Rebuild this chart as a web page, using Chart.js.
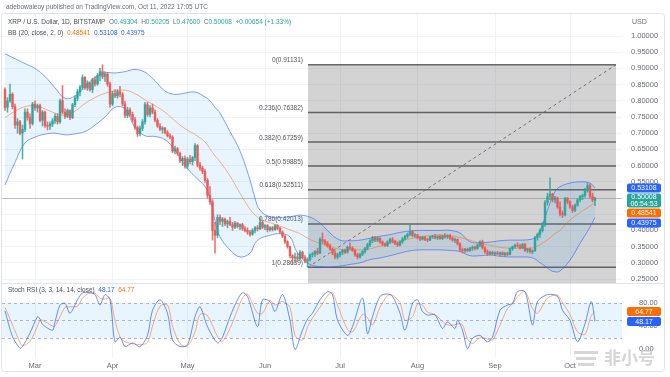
<!DOCTYPE html>
<html>
<head>
<meta charset="utf-8">
<script src="https://cdn.jsdelivr.net/npm/chart.js@4.4.0/dist/chart.umd.min.js"></script>
<style>
  html, body { margin: 0; padding: 0; background: #fff; }
  #wrap { width: 670px; height: 377px; }
</style>
</head>
<body>
<div id="wrap"><canvas id="xrp-chart" width="670" height="377"></canvas></div>
<script>
// day numbers count from 1 March 2022 (day 0), candles run 17 Feb -> 11 Oct
const firstDay = -12;

const opens = [
  .835,.780,.800,.820,.782,.725,.735,.700,.712,.765,
  .748,.730,.790,.778,.785,.740,.765,.724,.722,.728,
  .738,.752,.735,.800,.765,.752,.770,.748,.788,.808,
  .828,.842,.872,.840,.855,.835,.865,.852,.878,.890,
  .875,.882,.852,.790,.822,.815,.828,.820,.790,.755,
  .772,.758,.742,.718,.698,.715,.735,.788,.758,.778,
  .765,.740,.722,.712,.716,.702,.692,.688,.645,.652,
  .638,.615,.622,.598,.620,.612,.625,.662,.602,.592,
  .582,.555,.508,.488,.400,.385,.440,.428,.435,.420,
  .428,.418,.410,.422,.412,.418,.405,.400,.395,.388,
  .400,.408,.405,.425,.410,.415,.402,.408,.403,.414,
  .406,.395,.382,.365,.350,.322,.315,.318,.312,.332,
  .316,.305,.310,.325,.328,.335,.330,.372,.368,.360,
  .352,.342,.330,.318,.325,.332,.338,.333,.348,.345,
  .338,.325,.318,.326,.335,.345,.356,.368,.378,.370,
  .376,.364,.358,.354,.364,.372,.366,.360,.355,.365,
  .374,.382,.388,.396,.384,.386,.378,.373,.379,.372,
  .370,.380,.382,.377,.381,.375,.383,.380,.384,.376,
  .370,.372,.358,.340,.338,.342,.338,.345,.348,.344,
  .355,.365,.346,.334,.328,.332,.328,.330,.327,.331,
  .325,.329,.326,.344,.350,.354,.352,.346,.357,.338,
  .342,.334,.337,.378,.388,.400,.420,.486,.505,.512,
  .494,.500,.472,.452,.448,.498,.488,.472,.462,.478,
  .494,.504,.508,.525,.538,.505,.49304
];
const highs = [
  .840,.810,.852,.825,.790,.745,.740,.725,.775,.775,
  .760,.795,.800,.790,.790,.770,.768,.735,.735,.745,
  .760,.760,.805,.847,.775,.775,.772,.792,.815,.835,
  .848,.880,.875,.862,.858,.870,.875,.885,.900,.911,
  .890,.888,.858,.830,.835,.835,.845,.825,.798,.780,
  .778,.765,.748,.722,.722,.742,.795,.795,.785,.790,
  .772,.745,.730,.720,.718,.708,.698,.692,.660,.656,
  .642,.628,.630,.625,.632,.628,.668,.665,.610,.598,
  .588,.560,.535,.495,.425,.448,.448,.440,.438,.432,
  .440,.425,.428,.425,.420,.422,.412,.408,.400,.405,
  .412,.415,.440,.430,.418,.418,.412,.412,.418,.418,
  .410,.398,.385,.368,.352,.325,.330,.330,.338,.336,
  .322,.315,.328,.332,.338,.345,.378,.392,.372,.366,
  .358,.345,.338,.330,.335,.342,.342,.352,.362,.350,
  .342,.330,.330,.338,.348,.360,.372,.382,.382,.380,
  .378,.368,.362,.368,.376,.378,.370,.364,.368,.378,
  .385,.392,.418,.400,.390,.388,.382,.382,.382,.376,
  .382,.385,.388,.384,.386,.385,.390,.386,.388,.380,
  .376,.374,.362,.346,.345,.346,.348,.352,.352,.358,
  .368,.370,.350,.340,.336,.336,.334,.335,.333,.334,
  .332,.333,.346,.352,.358,.362,.358,.360,.360,.345,
  .346,.340,.382,.392,.405,.425,.492,.515,.562,.515,
  .505,.503,.488,.460,.502,.502,.492,.478,.482,.498,
  .508,.512,.530,.546,.542,.515,.50205
];
const lows = [
  .770,.765,.795,.775,.715,.700,.695,.620,.705,.740,
  .715,.725,.770,.765,.735,.722,.718,.710,.712,.720,
  .730,.728,.730,.760,.745,.748,.742,.745,.782,.800,
  .815,.835,.835,.832,.830,.825,.845,.848,.862,.868,
  .860,.845,.780,.785,.810,.808,.812,.785,.748,.748,
  .752,.735,.712,.690,.692,.708,.728,.752,.750,.760,
  .735,.718,.708,.700,.698,.688,.682,.640,.636,.632,
  .610,.600,.592,.590,.605,.602,.615,.596,.585,.575,
  .548,.500,.480,.370,.330,.378,.418,.412,.415,.408,
  .415,.400,.405,.408,.402,.400,.395,.388,.382,.385,
  .392,.398,.402,.405,.402,.395,.398,.398,.400,.402,
  .390,.378,.360,.345,.315,.295,.300,.305,.308,.312,
  .300,.2864,.305,.318,.320,.325,.328,.360,.355,.348,
  .338,.325,.312,.312,.318,.325,.328,.330,.340,.335,
  .320,.312,.314,.322,.330,.340,.350,.362,.365,.365,
  .360,.352,.350,.350,.360,.362,.356,.350,.352,.360,
  .370,.376,.384,.380,.378,.374,.368,.370,.368,.365,
  .368,.375,.374,.372,.372,.372,.376,.375,.372,.366,
  .362,.355,.335,.330,.332,.334,.335,.338,.340,.342,
  .350,.342,.330,.322,.324,.325,.322,.325,.322,.323,
  .320,.322,.324,.338,.345,.348,.342,.344,.335,.332,
  .330,.328,.335,.370,.378,.395,.412,.478,.495,.488,
  .485,.468,.445,.440,.445,.482,.468,.455,.458,.474,
  .488,.495,.502,.518,.500,.488,.476
];
const closes = [
  .780,.800,.820,.782,.725,.735,.700,.712,.765,.748,
  .730,.790,.778,.785,.740,.765,.724,.722,.728,.738,
  .752,.735,.800,.765,.752,.770,.748,.788,.808,.828,
  .842,.872,.840,.855,.835,.865,.852,.878,.890,.875,
  .882,.852,.790,.822,.815,.828,.820,.790,.755,.772,
  .758,.742,.718,.698,.715,.735,.788,.758,.778,.765,
  .740,.722,.712,.716,.702,.692,.688,.645,.652,.638,
  .615,.622,.598,.620,.612,.625,.662,.602,.592,.582,
  .555,.508,.488,.400,.385,.440,.428,.435,.420,.428,
  .418,.410,.422,.412,.418,.405,.400,.395,.388,.400,
  .408,.405,.425,.410,.415,.402,.408,.403,.414,.406,
  .395,.382,.365,.350,.322,.315,.318,.312,.332,.316,
  .305,.310,.325,.328,.335,.330,.372,.368,.360,.352,
  .342,.330,.318,.325,.332,.338,.333,.348,.345,.338,
  .325,.318,.326,.335,.345,.356,.368,.378,.370,.376,
  .364,.358,.354,.364,.372,.366,.360,.355,.365,.374,
  .382,.388,.396,.384,.386,.378,.373,.379,.372,.370,
  .380,.382,.377,.381,.375,.383,.380,.384,.376,.370,
  .372,.358,.340,.338,.342,.338,.345,.348,.344,.355,
  .365,.346,.334,.328,.332,.328,.330,.327,.331,.325,
  .329,.326,.344,.350,.354,.352,.346,.357,.338,.342,
  .334,.337,.378,.388,.400,.420,.486,.505,.512,.494,
  .500,.472,.452,.448,.498,.488,.472,.462,.478,.494,
  .504,.508,.525,.538,.505,.49354,.50008
];

// Bollinger bands (20, close, 2)
const bbDays = [-12,-8,-4,0,4,8,12,16,20,24,28,32,36,40,44,48,52,56,60,64,68,70,72,74,78,82,86,88,90,94,98,102,104,106,110,114,118,122,126,130,134,138,142,146,150,154,158,162,166,170,174,178,182,186,190,194,198,200,202,204,206,208,210,214,218,222,224];
const bbUpper = [.945,.93,.915,.90,.875,.84,.808,.815,.845,.872,.886,.886,.89,.897,.888,.862,.83,.82,.824,.827,.812,.80,.78,.762,.705,.645,.556,.50,.462,.442,.44,.442,.445,.447,.441,.423,.392,.37,.368,.37,.376,.382,.387,.394,.398,.40,.40,.40,.40,.392,.365,.362,.364,.368,.37,.37,.372,.378,.40,.44,.485,.52,.535,.546,.55,.546,.53108];
const bbBasis = [.748,.768,.782,.785,.775,.762,.756,.768,.792,.81,.823,.83,.833,.822,.803,.785,.765,.738,.714,.696,.673,.652,.63,.612,.568,.515,.465,.448,.435,.424,.413,.402,.396,.39,.372,.36,.35,.342,.34,.34,.343,.352,.36,.368,.374,.38,.384,.386,.384,.378,.37,.36,.354,.348,.345,.345,.345,.348,.356,.366,.377,.39,.40,.432,.455,.475,.48541];
const bbLower = [.54,.61,.67,.688,.697,.70,.695,.698,.705,.725,.75,.78,.775,.718,.692,.69,.68,.648,.60,.566,.535,.50,.43,.38,.34,.318,.33,.36,.375,.385,.39,.38,.345,.32,.295,.288,.287,.29,.295,.30,.31,.315,.322,.33,.337,.34,.34,.34,.338,.335,.322,.322,.324,.32,.318,.318,.317,.312,.30,.29,.278,.272,.275,.308,.36,.41,.43975];

// Stoch RSI (3, 3, 14, 14, close)
const stochDays = [-12,-9,-6,-5,-2,1,2,3,7,8,10,12,14,17,19,22,24,26,28,30,32,34,36,39,42,45,47,50,53,55,58,61,64,66,69,73,75,78,81,83,85,89,91,94,96,99,102,104,107,109,111,114,117,119,121,125,127,131,133,135,138,141,143,146,148,151,153,155,157,160,163,165,168,169,171,173,175,178,181,183,186,189,191,193,196,199,201,205,209,211,214,217,220,222.5,224];
const stochK = [66,22,2,5,28,56,52,43,33,47,76,79,62,85,97,97,94,76,94,85,13,21,5,11,5,24,67,85,62,16,5,8,56,73,39,11,21,56,85,97,91,39,85,82,65,94,50,0,33,52,62,85,99,94,50,24,39,88,27,56,91,95,91,62,33,79,85,65,59,59,36,47,36,50,33,1,19,24,13,21,67,76,79,99,99,42,82,94,91,67,50,13,44,82,48.17];
const stochD = [72,42,12,6,14,40,50,50,40,40,56,72,73,74,88,97,96,88,86,88,50,22,13,10,8,12,40,74,76,40,10,6,30,60,58,22,14,36,68,88,95,62,62,84,76,82,72,24,16,38,54,72,92,97,76,34,30,60,54,42,72,92,93,80,50,56,78,76,64,60,48,42,42,44,42,18,10,20,18,16,42,70,78,90,99,70,62,88,93,80,60,30,26,58,64.77];

const monthDays = [0, 31, 61, 92, 122, 153, 184, 214];
const monthNames = ['Mar', 'Apr', 'May', 'Jun', 'Jul', 'Aug', 'Sep', 'Oct'];
const priceTicks = [0.25,0.30,0.35,0.40,0.45,0.50,0.55,0.60,0.65,0.70,0.75,0.80,0.85,0.90,0.95,1.00];
const stochTicks = [0, 40, 80];
const stochBands = [20, 50, 80];

// fib retracement drawn from the 18 Jun low to the March high
const fibRatios = ['0', '0.236', '0.382', '0.5', '0.618', '0.786', '1'];
const fibPrices = [0.91131, 0.76382, 0.67259, 0.59885, 0.52511, 0.42013, 0.28639];
const fibDays = [109.2, 232.4];

const UP = '#26a69a', DOWN = '#ef5350', BLUE = '#2962ff', ORANGE = '#ff6d00';
const TXT = '#6a6d78';
const FONT = '"Liberation Sans", Arial, sans-serif';
const last = closes.length - 1;

const candleColor = ctx => closes[ctx.dataIndex] >= opens[ctx.dataIndex] ? 'rgba(38,166,154,0.85)' : 'rgba(239,83,80,0.85)';

function drawParts(ctx, x, y, parts, size) {
  ctx.font = size + 'px ' + FONT;
  ctx.textAlign = 'left';
  ctx.textBaseline = 'middle';
  parts.forEach(p => {
    ctx.fillStyle = p[1];
    ctx.fillText(p[0], x, y);
    x += ctx.measureText(p[0]).width;
  });
}

function drawBadges(ctx, scale, list) {
  let prevBottom = -Infinity;
  list.forEach(b => {
    const h = b.sub ? 14 : 9;
    const cy = Math.max(scale.getPixelForValue(b.value), prevBottom + 1 + h / 2);
    ctx.fillStyle = b.color;
    ctx.beginPath();
    ctx.roundRect(627, cy - h / 2, 34, h, 2);
    ctx.fill();
    ctx.fillStyle = '#fff';
    ctx.font = '7px ' + FONT;
    ctx.textAlign = 'center';
    ctx.textBaseline = 'middle';
    if (b.sub) {
      ctx.fillText(b.label, 644, cy - 3);
      ctx.fillText(b.sub, 644, cy + 3.5);
    } else {
      ctx.fillText(b.label, 644, cy + 0.5);
    }
    prevBottom = cy + h / 2;
  });
}

const overlay = {
  id: 'tvOverlay',
  beforeDatasetsDraw(chart) {
    const {ctx, chartArea: ca, scales: {x, y, y2}} = chart;
    ctx.save();

    // stoch rsi band
    const b80 = y2.getPixelForValue(80), b20 = y2.getPixelForValue(20);
    ctx.fillStyle = 'rgba(33,150,243,0.1)';
    ctx.fillRect(ca.left, b80, ca.right - ca.left, b20 - b80);
    ctx.strokeStyle = '#b2b5be';
    ctx.lineWidth = 1;
    ctx.setLineDash([3, 3]);
    stochBands.forEach(v => {
      const py = Math.round(y2.getPixelForValue(v)) + 0.5;
      ctx.beginPath(); ctx.moveTo(ca.left, py); ctx.lineTo(ca.right, py); ctx.stroke();
    });
    ctx.setLineDash([]);

    // fib retracement
    ctx.beginPath();
    ctx.rect(ca.left, y.top, ca.right - ca.left, y.bottom - y.top);
    ctx.clip();
    const fx0 = x.getPixelForValue(fibDays[0]), fx1 = x.getPixelForValue(fibDays[1]);
    const fTop = y.getPixelForValue(fibPrices[0]);
    ctx.fillStyle = 'rgba(110,110,110,0.3)';
    ctx.fillRect(fx0, fTop, fx1 - fx0, y.bottom - fTop);
    ctx.strokeStyle = 'rgba(70,70,70,0.8)';
    ctx.lineWidth = 1.5;
    ctx.font = '6.5px ' + FONT;
    ctx.textAlign = 'right';
    ctx.textBaseline = 'bottom';
    fibPrices.forEach((p, i) => {
      const py = y.getPixelForValue(p);
      ctx.beginPath(); ctx.moveTo(fx0, py); ctx.lineTo(fx1, py); ctx.stroke();
      ctx.fillStyle = '#555';
      ctx.fillText(fibRatios[i] + '(' + p.toFixed(5) + ')', fx0 - 5, py - 1);
    });
    ctx.strokeStyle = '#707070';
    ctx.lineWidth = 1;
    ctx.setLineDash([3, 3]);
    ctx.beginPath();
    ctx.moveTo(fx0, y.getPixelForValue(fibPrices[fibPrices.length - 1]));
    ctx.lineTo(fx1, fTop);
    ctx.stroke();
    ctx.setLineDash([]);

    // last price line
    const lp = Math.round(y.getPixelForValue(closes[last])) + 0.5;
    ctx.strokeStyle = 'rgba(140,140,140,0.5)';
    ctx.beginPath(); ctx.moveTo(ca.left, lp); ctx.lineTo(ca.right, lp); ctx.stroke();
    ctx.restore();
  },
  afterDraw(chart) {
    const {ctx, scales: {y, y2}} = chart;
    ctx.save();

    // frame and pane separator
    ctx.strokeStyle = '#e0e3eb';
    ctx.lineWidth = 1;
    ctx.beginPath();
    ctx.roundRect(1.5, 13.5, 663, 358, 3);
    ctx.stroke();
    const sep = Math.round(y.bottom) + 0.5;
    ctx.beginPath(); ctx.moveTo(1.5, sep); ctx.lineTo(664.5, sep); ctx.stroke();

    // header and legends
    drawParts(ctx, 6, 7, [['adebowaleoy published on TradingView.com, Oct 11, 2022 17:05 UTC', TXT]], 6.5);
    const chg = closes[last] - closes[last - 1];
    drawParts(ctx, 8, 22, [
      ['XRP / U.S. Dollar, 1D, BITSTAMP  ', '#4a4e5a'],
      ['O', TXT], [opens[last].toFixed(5) + '  ', UP],
      ['H', TXT], [highs[last].toFixed(5) + '  ', UP],
      ['L', TXT], [lows[last].toFixed(5) + '  ', UP],
      ['C', TXT], [closes[last].toFixed(5) + '  ', UP],
      ['+' + chg.toFixed(5) + ' (+' + (chg / closes[last - 1] * 100).toFixed(2) + '%)', UP]
    ], 6.5);
    const bl = bbDays.length - 1;
    drawParts(ctx, 8, 33, [
      ['BB (20, close, 2, 0)  ', '#4a4e5a'],
      [bbBasis[bl].toFixed(5) + '  ', ORANGE],
      [bbUpper[bl].toFixed(5) + '  ', BLUE],
      [bbLower[bl].toFixed(5), BLUE]
    ], 6.5);
    const sl = stochDays.length - 1;
    drawParts(ctx, 8, 290, [
      ['Stoch RSI (3, 3, 14, 14, close)  ', '#4a4e5a'],
      [stochK[sl].toFixed(2) + '  ', BLUE],
      [stochD[sl].toFixed(2), ORANGE]
    ], 6.5);

    ctx.font = '7px ' + FONT;
    ctx.fillStyle = TXT;
    ctx.textAlign = 'left';
    ctx.textBaseline = 'middle';
    ctx.fillText('USD', 632, 22);

    drawBadges(ctx, y, [
      {value: bbUpper[bl], label: bbUpper[bl].toFixed(5), color: BLUE},
      {value: closes[last], label: closes[last].toFixed(5), sub: '06:54:53', color: UP},
      {value: bbBasis[bl], label: bbBasis[bl].toFixed(5), color: ORANGE},
      {value: bbLower[bl], label: bbLower[bl].toFixed(5), color: BLUE}
    ]);
    drawBadges(ctx, y2, [
      {value: stochD[sl], label: stochD[sl].toFixed(2), color: ORANGE},
      {value: stochK[sl], label: stochK[sl].toFixed(2), color: BLUE}
    ]);

    // site watermark
    ctx.fillStyle = 'rgba(200,200,200,0.75)';
    [0, 6, 12].forEach((dy, i) => ctx.fillRect(574 + i * 2, 351 + dy, 24 - i * 4, 3));
    ctx.font = 'bold 17px "Noto Sans CJK SC", sans-serif';
    ctx.textAlign = 'left';
    ctx.textBaseline = 'middle';
    ctx.fillText('非小号', 604, 358);
    ctx.restore();
  }
};

new Chart(document.getElementById('xrp-chart'), {
  type: 'line',
  data: {
    datasets: [
      {
        type: 'bar',
        label: 'body',
        data: opens.map((o, i) => ({x: firstDay + i, y: [o, closes[i]]})),
        backgroundColor: candleColor,
        barThickness: 1.8,
        grouped: false,
        borderWidth: 0,
        yAxisID: 'y'
      },
      {
        type: 'bar',
        label: 'wick',
        data: lows.map((l, i) => ({x: firstDay + i, y: [l, highs[i]]})),
        backgroundColor: candleColor,
        barThickness: 0.9,
        grouped: false,
        borderWidth: 0,
        yAxisID: 'y'
      },
      {
        label: 'K',
        data: stochDays.map((d, i) => ({x: d, y: stochK[i]})),
        borderColor: 'rgba(41,98,255,0.7)',
        borderWidth: 1,
        pointRadius: 0,
        tension: 0.3,
        yAxisID: 'y2'
      },
      {
        label: 'D',
        data: stochDays.map((d, i) => ({x: d, y: stochD[i]})),
        borderColor: 'rgba(255,109,0,0.55)',
        borderWidth: 1,
        pointRadius: 0,
        tension: 0.3,
        yAxisID: 'y2'
      },
      {
        label: 'Basis',
        data: bbDays.map((d, i) => ({x: d, y: bbBasis[i]})),
        borderColor: 'rgba(255,109,0,0.5)',
        borderWidth: 1,
        pointRadius: 0,
        tension: 0.4,
        yAxisID: 'y'
      },
      {
        label: 'Upper',
        data: bbDays.map((d, i) => ({x: d, y: bbUpper[i]})),
        borderColor: 'rgba(41,98,255,0.6)',
        borderWidth: 1,
        pointRadius: 0,
        tension: 0.4,
        yAxisID: 'y'
      },
      {
        label: 'Lower',
        data: bbDays.map((d, i) => ({x: d, y: bbLower[i]})),
        borderColor: 'rgba(41,98,255,0.6)',
        backgroundColor: 'rgba(33,150,243,0.1)',
        fill: '-1',
        borderWidth: 1,
        pointRadius: 0,
        tension: 0.4,
        yAxisID: 'y'
      }
    ]
  },
  options: {
    responsive: false,
    animation: false,
    layout: { padding: { top: 14, left: 2, right: 0, bottom: 0 } },
    plugins: {
      legend: { display: false },
      tooltip: { enabled: false }
    },
    scales: {
      x: {
        type: 'linear',
        min: -13.2,
        max: 234.8,
        offset: false,
        grid: { color: '#f0f3fa', offset: false, drawTicks: false },
        border: { display: false },
        ticks: {
          color: TXT,
          font: { size: 7.5, family: FONT },
          padding: 4,
          maxRotation: 0,
          autoSkip: false,
          callback: v => monthNames[monthDays.indexOf(v)] || ''
        },
        afterBuildTicks: s => { s.ticks = monthDays.map(v => ({value: v})); },
        afterFit: s => { s.height = 20; }
      },
      y: {
        type: 'linear',
        position: 'right',
        stack: 'panes',
        stackWeight: 269,
        min: 0.2377,
        max: 1.0679,
        grid: { color: '#f3f4f8', drawTicks: false },
        border: { display: false },
        ticks: {
          color: TXT,
          font: { size: 7.5, family: FONT },
          padding: 9,
          autoSkip: false,
          callback: v => v.toFixed(5)
        },
        afterBuildTicks: s => { s.ticks = priceTicks.map(v => ({value: v})); },
        afterFit: s => { s.width = 48; }
      },
      y2: {
        type: 'linear',
        position: 'right',
        stack: 'panes',
        stackWeight: 74,
        min: -13,
        max: 113.8,
        grid: { display: false },
        border: { display: false },
        ticks: {
          color: TXT,
          font: { size: 7.5, family: FONT },
          padding: 9,
          autoSkip: false,
          callback: v => v.toFixed(2)
        },
        afterBuildTicks: s => { s.ticks = stochTicks.map(v => ({value: v})); },
        afterFit: s => { s.width = 48; }
      }
    }
  },
  plugins: [overlay]
});
</script>
</body>
</html>
